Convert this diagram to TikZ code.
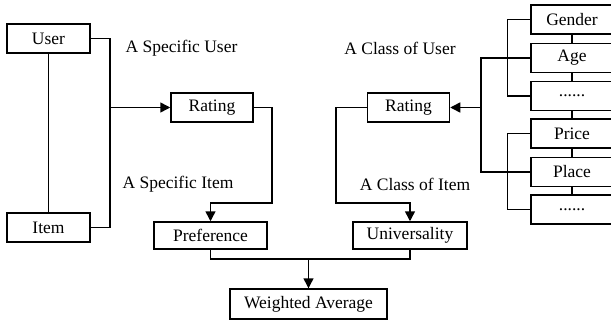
\documentclass[tikz,border=0pt]{standalone}
\usepackage{fontspec}
\setmainfont{Liberation Serif}
\usetikzlibrary{arrows.meta}

\begin{document}
\begin{tikzpicture}[x=1pt,y=-1pt,
  box/.style={draw, line width=1.5pt, minimum width=83pt, minimum height=29pt, inner sep=0pt, font=\fontsize{17.5}{20}\selectfont},
  lbl/.style={inner sep=0pt, font=\fontsize{17.5}{20}\selectfont},
  conn/.style={line width=1.5pt},
  arr/.style={line width=1.5pt, -{Triangle[length=10pt, width=10pt]}}]
\useasboundingbox (0,0) rectangle (611,321);
\node[box] (user) at (48.5,38.5) {User};
\node[box] (item) at (48.5,227.5) {Item};
\node[box, minimum width=82pt] (rate1) at (212,107.5) {Rating};
\node[box, minimum width=113pt, minimum height=27pt] (pref) at (210.5,235.5) {Preference};
\node[box, minimum width=82pt] (rate2) at (408.5,107.5) {Rating};
\node[box, minimum width=114pt, minimum height=27pt] (univ) at (410,235.5) {Universality};
\node[box, minimum width=157pt, minimum height=30pt] (wavg) at (308.5,304) {Weighted Average};
\node[box, minimum width=82pt] (gender) at (572,19.5) {Gender};
\node[box, minimum width=82pt] (age) at (572,58) {Age};
\node[box, minimum width=82pt] (udots) at (572,96) {......};
\node[box, minimum width=82pt] (price) at (572,133.5) {Price};
\node[box, minimum width=82pt] (place) at (572,172) {Place};
\node[box, minimum width=82pt] (idots) at (572,209.5) {......};
\node[lbl] (suser) at (181.5,48) {A Specific User};
\node[lbl] (cuser) at (400,48) {A Class of User};
\node[lbl] (sitem) at (178,184) {A Specific Item};
\node[lbl] (citem) at (415,184) {A Class of Item};
\coordinate (uj) at (110,107.5);
\coordinate (cj) at (481,107.5);
\draw[conn] (user.south) -- (item.north);
\draw[conn] (user.east) -| (uj) |- (item.east);
\draw[arr] (uj) -- (rate1.west);
\draw[arr] (rate1.east) -- ++(18,0) -- ++(0,95.5) -| (pref.north);
\draw[arr] (rate2.west) -- ++(-31,0) -- ++(0,95.5) -| (univ.north);
\draw[conn] (univ.south) -- ++(0,9) -| (wavg.north);
\draw[arr] (pref.south) -- ++(0,9) -| (wavg.north);
\draw[conn] (age.west) -| (cj) |- (place.west);
\draw[arr] (cj) -- (rate2.east);
\draw[conn] (gender.west) -- ++(-23,0) |- (udots.west);
\draw[conn] (price.west) -- ++(-23,0) |- (idots.west);
\foreach \a/\b in {gender/age, age/udots, udots/price, price/place, place/idots}
  \draw[conn] (\a.south) -- (\b.north);
\end{tikzpicture}
\end{document}
